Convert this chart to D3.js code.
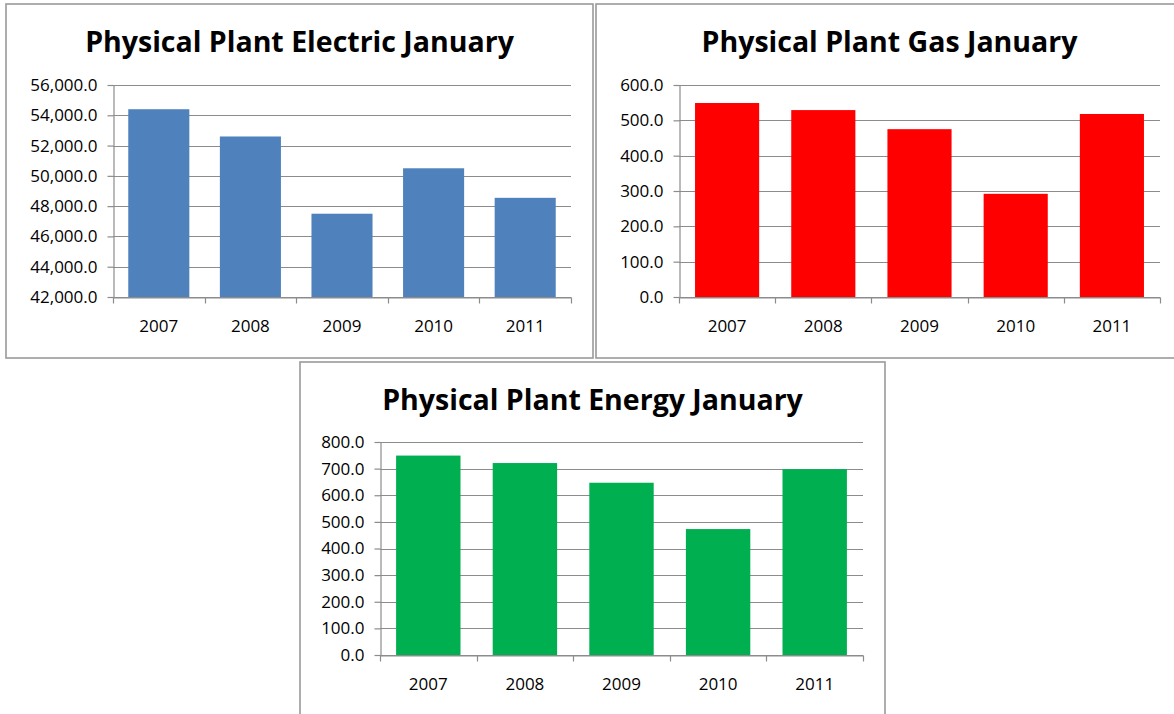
<!DOCTYPE html>
<html>
<head>
<meta charset="utf-8">
<script src="https://cdn.jsdelivr.net/npm/d3@7"></script>
<style>
  body { margin: 0; background: #fff; }
  svg { display: block; }
</style>
</head>
<body>
<div id="canvas"></div>
<script>
const years = ["2007", "2008", "2009", "2010", "2011"];

const electricValues = [54400, 52600, 47500, 50500, 48550];
const gasValues = [549, 529, 475, 292, 518];
const energyValues = [749, 721, 647, 473, 698];

const electricTicks = [42000, 44000, 46000, 48000, 50000, 52000, 54000, 56000];
const gasTicks = [0, 100, 200, 300, 400, 500, 600];
const energyTicks = [0, 100, 200, 300, 400, 500, 600, 700, 800];

const width = 1174;
const height = 714;
const font = "'Open Sans', 'Noto Sans', sans-serif";
const gridColor = "#8c8c8c";

const svg = d3.select("#canvas").append("svg")
  .attr("width", width)
  .attr("height", height);

const fmt = d3.format(",.1f");

function drawChart(cfg) {
  const box = cfg.box;
  const g = svg.append("g");

  // panel frame
  g.append("rect")
    .attr("x", box.x)
    .attr("y", box.y)
    .attr("width", box.w)
    .attr("height", box.h)
    .attr("fill", "#fff")
    .attr("stroke", "#9a9a9a")
    .attr("stroke-width", 1.6);

  g.append("text")
    .attr("x", box.x + box.w / 2 + (cfg.titleDx || 0))
    .attr("y", box.y + 48)
    .attr("text-anchor", "middle")
    .style("font-family", font)
    .style("font-weight", "bold")
    .style("font-size", "28.5px")
    .text(cfg.title);

  const p = cfg.plot;
  const iw = p.right - p.left;
  const ih = p.bottom - p.top;
  const pg = g.append("g").attr("transform", `translate(${p.left},${p.top})`);

  const x = d3.scaleBand()
    .domain(years)
    .range([0, iw])
    .paddingInner(1 / 3)
    .paddingOuter(1 / 6);

  const y = d3.scaleLinear()
    .domain(d3.extent(cfg.ticks))
    .range([ih, 0]);

  // gridlines
  pg.append("g")
    .selectAll("line")
    .data(cfg.ticks)
    .join("line")
    .attr("x1", 0)
    .attr("x2", iw)
    .attr("y1", (d) => Math.round(y(d)) + 0.5)
    .attr("y2", (d) => Math.round(y(d)) + 0.5)
    .attr("stroke", gridColor)
    .attr("stroke-width", 1.2);

  // bars
  pg.append("g")
    .selectAll("rect")
    .data(cfg.values)
    .join("rect")
    .attr("x", (d, i) => x(years[i]))
    .attr("y", (d) => y(d))
    .attr("width", x.bandwidth())
    .attr("height", (d) => ih - y(d))
    .attr("fill", cfg.color);

  // y axis
  const yAxis = pg.append("g")
    .attr("transform", "translate(0.5,0)")
    .call(d3.axisLeft(y).tickValues(cfg.ticks).tickFormat(fmt).tickSize(6).tickSizeOuter(0).tickPadding(10));
  yAxis.selectAll("path, line").attr("stroke", gridColor).attr("stroke-width", 1.2);
  yAxis.selectAll("text")
    .style("font-family", font)
    .style("font-size", "17px")
    .attr("fill", "#000");

  // x axis
  const xAxis = pg.append("g")
    .attr("transform", `translate(0,${Math.round(ih) + 0.5})`)
    .call(d3.axisBottom(x).tickSize(0).tickPadding(22));
  xAxis.select("path").attr("stroke", gridColor).attr("stroke-width", 1.2);
  xAxis.selectAll("text")
    .style("font-family", font)
    .style("font-size", "17px")
    .attr("fill", "#000");

  const edges = years.map((d) => x(d) - (x.step() - x.bandwidth()) / 2).concat([iw]);
  xAxis.append("g")
    .selectAll("line")
    .data(edges)
    .join("line")
    .attr("x1", (d) => Math.round(d) + 0.5)
    .attr("x2", (d) => Math.round(d) + 0.5)
    .attr("y1", 0)
    .attr("y2", 6)
    .attr("stroke", gridColor)
    .attr("stroke-width", 1.2);
}

drawChart({
  title: "Physical Plant Electric January",
  box: { x: 6, y: 4, w: 587, h: 354 },
  plot: { left: 113, right: 571, top: 85, bottom: 297 },
  values: electricValues,
  ticks: electricTicks,
  color: "#4f81bd"
});

drawChart({
  title: "Physical Plant Gas January",
  box: { x: 596, y: 4, w: 590, h: 354 },
  plot: { left: 679, right: 1160, top: 85, bottom: 297 },
  values: gasValues,
  ticks: gasTicks,
  color: "#ff0000",
  titleDx: -1.5
});

drawChart({
  title: "Physical Plant Energy January",
  box: { x: 300, y: 362, w: 585, h: 360 },
  plot: { left: 380, right: 863, top: 442, bottom: 655 },
  values: energyValues,
  ticks: energyTicks,
  color: "#00b050"
});
</script>
</body>
</html>
